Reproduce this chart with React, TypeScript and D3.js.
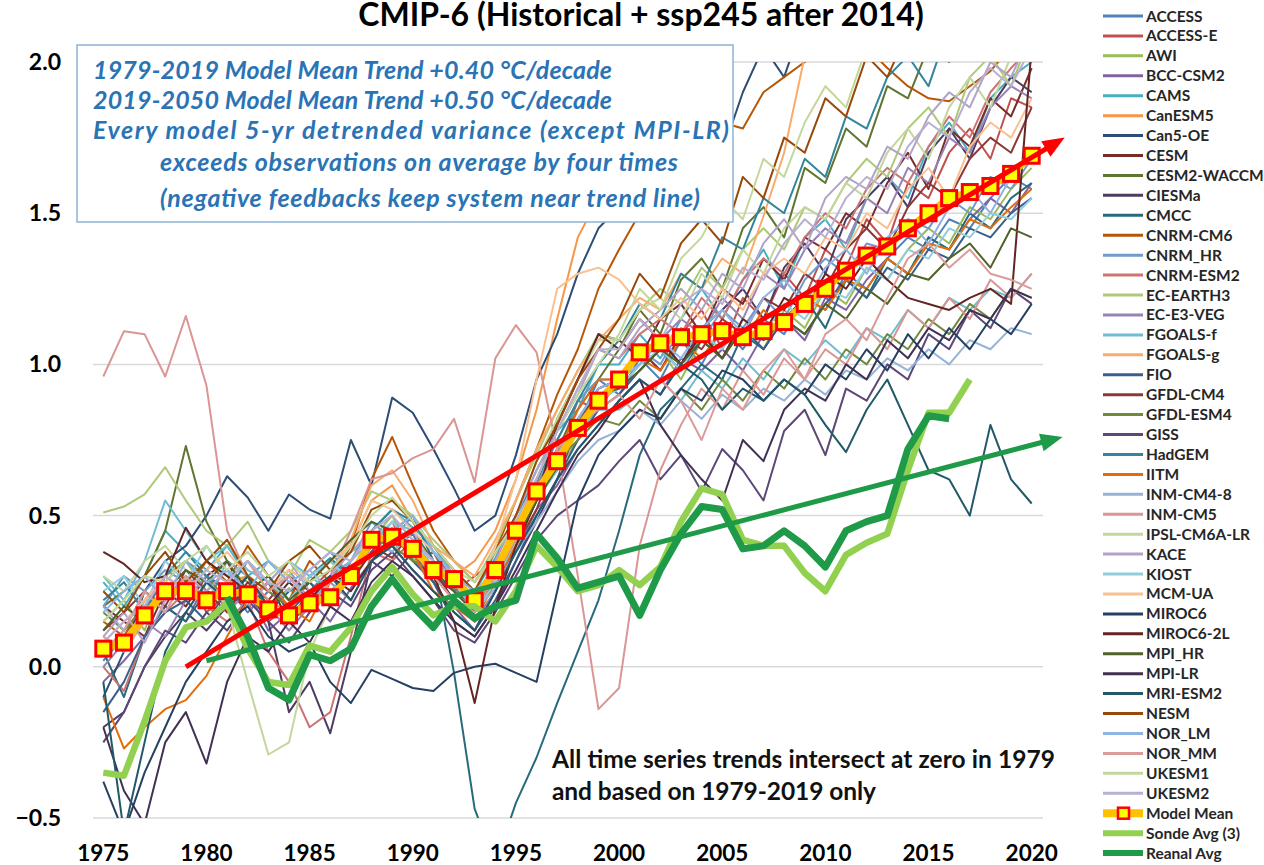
import React from "react";
import * as d3 from "d3";

const years = [1975,1976,1977,1978,1979,1980,1981,1982,1983,1984,1985,1986,1987,1988,1989,1990,1991,1992,1993,1994,1995,1996,1997,1998,1999,2000,2001,2002,2003,2004,2005,2006,2007,2008,2009,2010,2011,2012,2013,2014,2015,2016,2017,2018,2019,2020];

const modelNames = ["ACCESS","ACCESS-E","AWI","BCC-CSM2","CAMS","CanESM5","Can5-OE","CESM","CESM2-WACCM","CIESMa","CMCC","CNRM-CM6","CNRM_HR","CNRM-ESM2","EC-EARTH3","EC-E3-VEG","FGOALS-f","FGOALS-g","FIO","GFDL-CM4","GFDL-ESM4","GISS","HadGEM","IITM","INM-CM4-8","INM-CM5","IPSL-CM6A-LR","KACE","KIOST","MCM-UA","MIROC6","MIROC6-2L","MPI_HR","MPI-LR","MRI-ESM2","NESM","NOR_LM","NOR_MM","UKESM1","UKESM2"];

const modelColors = ["#4F81BD","#C0504D","#9BBB59","#8064A2","#4BACC6","#F79646","#2C4D75","#772C2A","#5F7530","#4D3B62","#276A7C","#B65708","#729ACA","#CD7371","#AFC97A","#9983B5","#6FBDD1","#F9AB6B","#3A5F8B","#8C3836","#71893F","#5C4776","#31859C","#E46C0A","#95B3D7","#D99694","#C3D69B","#B3A2C7","#93CDDD","#FAC090","#254061","#632523","#4F6228","#403152","#215968","#984807","#8EB4E3","#DA9B99","#C4D79B","#B9AFD0"];

const modelValues: number[][] = [
  [0.02,0.10,0.20,0.28,0.22,0.30,0.26,0.18,0.25,0.20,0.28,0.22,0.35,0.45,0.40,0.44,0.30,0.26,0.20,0.30,0.48,0.55,0.72,0.80,0.95,0.90,1.02,0.95,1.08,1.00,1.12,1.05,1.15,1.10,1.22,1.18,1.30,1.25,1.35,1.42,1.38,1.48,1.45,1.55,1.62,1.58],
  [0.10,0.05,0.18,0.22,0.30,0.18,0.24,0.30,0.15,0.20,0.25,0.32,0.28,0.40,0.48,0.35,0.38,0.25,0.30,0.35,0.42,0.62,0.70,0.88,0.85,0.95,1.05,0.98,1.10,1.18,1.05,1.22,1.15,1.30,1.22,1.38,1.32,1.48,1.40,1.60,1.55,1.70,1.78,1.68,1.88,1.85],
  [0.15,0.22,0.12,0.30,0.35,0.25,0.32,0.28,0.20,0.26,0.18,0.30,0.38,0.42,0.50,0.36,0.28,0.32,0.18,0.28,0.40,0.58,0.65,0.75,0.90,0.92,0.98,1.05,0.95,1.08,1.02,1.12,1.05,1.18,1.12,1.25,1.20,1.32,1.28,1.38,1.45,1.40,1.52,1.48,1.58,1.65],
  [-0.05,0.02,0.10,0.20,0.15,0.28,0.20,0.25,0.12,0.18,0.22,0.15,0.26,0.35,0.40,0.32,0.25,0.20,0.12,0.25,0.38,0.52,0.60,0.72,0.80,0.88,0.95,0.90,1.02,0.98,1.05,0.98,1.10,1.15,1.08,1.22,1.18,1.28,1.35,1.30,1.42,1.38,1.48,1.55,1.50,1.60],
  [0.28,0.20,0.30,0.45,0.38,0.32,0.40,0.30,0.35,0.28,0.32,0.38,0.30,0.45,0.52,0.46,0.40,0.30,0.25,0.36,0.50,0.65,0.78,0.85,1.00,1.00,1.10,1.02,1.15,1.25,1.15,1.28,1.38,1.25,1.42,1.48,1.38,1.55,1.62,1.55,1.72,1.80,1.70,1.88,1.95,2.00],
  [0.05,0.12,0.20,0.30,0.25,0.35,0.28,0.30,0.22,0.18,0.30,0.35,0.40,0.55,0.60,0.48,0.38,0.30,0.35,0.45,0.62,0.85,1.15,1.42,1.55,1.62,1.75,1.70,1.92,2.05,1.98,2.15,2.10,2.30,2.25,2.40,2.45,2.35,2.55,2.60,2.50,2.70,2.75,2.65,2.85,2.90],
  [-0.10,0.05,0.25,0.35,0.40,0.50,0.63,0.56,0.45,0.57,0.52,0.49,0.75,0.60,0.89,0.84,0.72,0.59,0.45,0.50,0.70,0.95,1.10,1.30,1.45,1.52,1.62,1.55,1.75,1.82,1.70,1.90,2.05,1.95,2.15,2.10,2.25,2.30,2.20,2.40,2.35,2.50,2.45,2.60,2.55,2.65],
  [0.20,0.15,0.10,0.25,0.20,0.30,0.35,0.22,0.28,0.15,0.20,0.30,0.28,0.38,0.45,0.40,0.32,0.22,0.15,0.25,0.45,0.60,0.82,0.95,1.10,1.08,1.02,1.15,1.20,1.10,1.25,1.20,1.35,1.28,1.42,1.38,1.50,1.45,1.60,1.70,1.58,1.78,1.72,1.88,1.82,1.98],
  [0.20,0.25,0.30,0.45,0.73,0.48,0.35,0.30,0.25,0.32,0.28,0.35,0.30,0.42,0.38,0.45,0.35,0.28,0.22,0.30,0.45,0.60,0.72,0.85,0.95,1.05,1.18,1.10,1.28,1.35,1.25,1.45,1.52,1.42,1.65,1.60,1.78,1.72,1.92,1.88,2.05,2.00,2.15,2.10,2.25,2.20],
  [-0.20,-0.15,0.00,0.10,0.18,0.12,0.20,0.25,0.15,-0.15,-0.05,-0.22,0.05,0.35,0.30,0.38,0.28,0.15,0.10,0.20,0.35,0.48,0.62,0.80,0.90,0.92,1.00,1.08,1.00,1.12,1.18,1.25,1.15,1.32,1.40,1.30,1.48,1.55,1.62,1.52,1.70,1.78,1.68,1.85,1.95,1.90],
  [0.05,-0.10,0.10,0.20,0.15,0.25,0.22,0.30,0.18,0.25,0.28,0.20,0.30,0.40,0.45,0.50,0.35,-0.02,-0.47,-0.65,-0.45,-0.30,-0.12,0.05,0.22,0.45,0.70,0.85,0.92,1.00,0.95,1.10,1.05,1.15,1.22,1.12,1.28,1.22,1.35,1.30,1.42,1.38,1.50,1.45,1.55,1.60],
  [0.15,0.10,0.22,0.30,0.25,0.35,0.28,0.40,0.30,0.22,0.35,0.28,0.40,0.62,0.76,0.60,0.45,0.35,0.28,0.38,0.55,0.72,0.90,1.05,1.25,1.38,1.50,1.62,1.58,1.72,1.80,1.78,1.90,1.95,2.00,2.05,2.10,2.05,1.98,1.92,1.88,1.87,1.92,1.97,2.05,2.15],
  [0.20,0.30,0.25,0.32,0.28,0.20,0.35,0.30,0.25,0.32,0.22,0.30,0.35,0.48,0.42,0.50,0.38,0.30,0.22,0.32,0.45,0.60,0.75,0.88,0.95,0.95,1.05,1.00,1.12,1.08,1.18,1.12,1.22,1.15,1.28,1.35,1.30,1.40,1.38,1.48,1.45,1.55,1.50,1.62,1.58,1.68],
  [0.00,-0.08,0.10,0.18,0.25,0.20,0.15,0.22,0.05,-0.05,-0.20,-0.15,0.10,0.38,0.35,0.42,0.35,0.25,0.18,0.28,0.45,0.62,0.78,0.92,1.05,1.02,1.10,1.15,1.10,1.22,1.15,1.28,1.35,1.30,1.42,1.50,1.45,1.58,1.65,1.60,1.72,1.82,1.75,1.90,1.98,2.05],
  [0.51,0.53,0.57,0.66,0.55,0.45,0.40,0.48,0.35,0.30,0.42,0.38,0.45,0.58,0.55,0.50,0.42,0.35,0.28,0.40,0.55,0.70,0.85,0.98,1.10,1.08,1.18,1.25,1.20,1.32,1.25,1.38,1.45,1.38,1.52,1.48,1.60,1.68,1.62,1.78,1.85,1.75,1.95,2.02,1.92,2.10],
  [0.00,0.08,0.15,0.10,0.22,0.30,0.18,0.25,0.20,0.12,0.20,0.28,0.22,0.35,0.42,0.38,0.30,0.22,0.15,0.25,0.40,0.55,0.68,0.82,0.92,0.95,1.02,1.08,1.15,1.10,1.22,1.15,1.30,1.25,1.38,1.45,1.40,1.55,1.50,1.65,1.60,1.75,1.70,1.85,1.92,1.88],
  [0.30,0.22,0.35,0.55,0.45,0.35,0.40,0.32,0.28,0.35,0.30,0.25,0.32,0.40,0.48,0.45,0.38,0.32,0.25,0.30,0.42,0.55,0.65,0.78,0.85,0.85,0.90,0.95,0.88,0.98,0.92,1.02,0.95,1.05,1.00,1.08,1.02,1.12,1.08,1.18,1.12,1.22,1.18,1.25,1.22,1.30],
  [0.10,0.05,0.15,0.25,0.30,0.20,0.28,0.35,0.25,0.30,0.22,0.30,0.42,0.60,0.65,0.55,0.40,0.35,0.30,0.42,0.55,0.72,0.85,0.98,1.08,1.15,1.22,1.18,1.30,1.25,1.35,1.30,1.49,1.70,2.02,2.10,2.20,2.25,2.35,2.40,2.45,2.55,2.60,2.65,2.75,2.80],
  [-0.15,-0.05,0.10,0.18,0.22,0.15,0.25,0.20,0.28,0.18,0.25,0.20,0.30,0.38,0.45,0.35,0.28,0.18,0.12,0.22,0.35,0.50,0.62,0.75,0.85,0.90,0.98,1.05,0.98,1.08,1.02,1.12,1.05,1.15,1.10,1.20,1.28,1.22,1.32,1.28,1.38,1.35,1.45,1.42,1.50,1.55],
  [0.12,0.18,0.25,0.20,0.32,0.25,0.18,0.28,0.22,0.30,0.25,0.20,0.32,0.40,0.36,0.45,0.30,0.25,0.20,0.28,0.40,0.52,0.70,0.80,0.92,0.95,1.05,0.98,1.10,1.05,1.15,1.10,1.22,1.18,1.30,1.25,1.38,1.45,1.38,1.52,1.60,1.55,1.68,1.75,1.70,1.85],
  [0.18,0.12,0.20,0.28,0.35,0.30,0.22,0.30,0.25,0.20,0.30,0.35,0.28,0.42,0.40,0.35,0.32,0.28,0.20,0.30,0.45,0.55,0.68,0.75,0.82,0.80,0.88,0.82,0.92,0.85,0.95,0.88,0.98,0.92,1.02,0.95,1.05,1.00,1.10,1.05,1.15,1.10,1.20,1.15,1.25,1.22],
  [-0.25,-0.15,0.00,0.12,0.08,0.18,0.12,0.22,0.15,0.08,0.18,0.25,0.20,0.32,0.38,0.30,0.22,0.12,0.08,0.18,0.30,0.42,0.50,0.55,0.60,0.68,0.75,0.62,0.70,0.58,0.72,0.65,0.55,0.78,0.85,0.70,0.92,0.88,1.00,0.95,1.10,1.05,1.18,1.12,1.25,1.20],
  [0.22,0.28,0.18,0.30,0.38,0.30,0.25,0.35,0.28,0.22,0.30,0.36,0.30,0.45,0.52,0.48,0.38,0.28,0.22,0.35,0.50,0.62,0.75,0.88,1.00,1.08,1.20,1.15,1.30,1.25,1.42,1.38,1.55,1.50,1.68,1.62,1.82,1.78,1.95,2.02,1.92,2.12,2.08,2.22,2.18,2.30],
  [-0.10,-0.27,-0.20,-0.14,-0.11,-0.03,0.10,0.22,0.28,0.20,0.15,0.28,0.32,0.40,0.45,0.38,0.25,0.20,0.15,0.28,0.40,0.55,0.70,0.85,0.95,0.95,1.02,0.98,1.08,1.02,1.12,1.08,1.18,1.12,1.22,1.18,1.28,1.25,1.35,1.30,1.40,1.38,1.48,1.45,1.52,1.58],
  [0.20,0.12,0.25,0.18,0.30,0.22,0.28,0.35,0.25,0.30,0.22,0.28,0.35,0.42,0.38,0.45,0.32,0.28,0.18,0.26,0.38,0.48,0.58,0.68,0.75,0.78,0.85,0.80,0.88,0.82,0.90,0.85,0.92,0.88,0.95,0.90,0.98,0.95,1.02,0.98,1.05,1.00,1.08,1.05,1.12,1.10],
  [0.96,1.11,1.10,0.96,1.16,0.93,0.45,0.30,0.22,0.15,0.25,0.30,0.45,0.62,0.64,0.69,0.72,0.82,0.61,1.02,1.13,1.04,0.72,0.30,-0.14,-0.07,0.40,0.65,0.80,0.92,0.85,0.98,0.90,1.02,0.95,1.05,1.00,1.12,1.05,1.18,1.12,1.22,1.15,1.28,1.22,1.30],
  [0.30,0.25,0.35,0.40,0.32,0.28,0.20,-0.05,-0.29,-0.25,0.05,0.20,0.30,0.45,0.50,0.42,0.35,0.28,0.20,0.32,0.50,0.68,0.82,0.95,1.08,1.08,1.18,1.22,1.15,1.30,1.22,1.38,1.30,1.45,1.52,1.48,1.60,1.55,1.70,1.78,1.68,1.85,1.95,1.85,2.02,2.08],
  [0.10,0.18,0.08,0.22,0.30,0.25,0.32,0.20,0.28,0.35,0.25,0.30,0.38,0.45,0.50,0.42,0.35,0.30,0.22,0.35,0.50,0.65,0.78,0.90,1.05,1.02,1.12,1.18,1.25,1.18,1.30,1.25,1.40,1.48,1.38,1.55,1.62,1.58,1.72,1.68,1.82,1.90,1.85,2.00,1.95,2.10],
  [0.25,0.30,0.20,0.35,0.28,0.40,0.30,0.35,0.28,0.22,0.30,0.35,0.28,0.42,0.48,0.40,0.35,0.25,0.18,0.28,0.42,0.55,0.68,0.80,0.88,0.92,1.00,1.05,0.98,1.10,1.05,1.15,1.10,1.20,1.15,1.25,1.22,1.32,1.28,1.38,1.35,1.45,1.42,1.50,1.48,1.55],
  [0.08,0.15,0.22,0.30,0.25,0.32,0.38,0.30,0.25,0.32,0.28,0.35,0.40,0.55,0.52,0.45,0.38,0.30,0.25,0.40,0.62,0.95,1.25,1.30,1.32,1.28,1.20,1.15,1.22,1.15,1.25,1.18,1.30,1.35,1.30,1.42,1.38,1.50,1.45,1.58,1.65,1.55,1.72,1.80,1.75,1.88],
  [-0.38,-0.55,-0.35,-0.20,-0.05,0.05,0.15,0.20,0.10,0.05,0.08,-0.05,-0.12,-0.01,-0.04,-0.07,-0.08,-0.02,0.00,0.01,-0.02,-0.05,0.25,0.55,0.70,0.78,0.85,0.82,0.92,0.88,0.98,0.95,0.88,0.95,0.90,1.00,0.95,1.05,0.98,1.10,1.02,1.12,1.05,1.15,1.10,1.20],
  [0.38,0.34,0.28,0.30,0.46,0.35,0.30,0.25,0.20,0.28,0.22,0.30,0.25,0.35,0.42,0.38,0.30,0.15,-0.12,0.20,0.40,0.55,0.80,0.95,1.10,1.05,1.15,1.08,1.00,1.10,1.02,1.15,1.10,1.22,1.18,1.30,1.25,1.35,1.28,1.22,1.20,1.18,1.22,1.25,1.20,2.05],
  [0.12,0.20,0.15,0.25,0.32,0.28,0.35,0.25,0.30,0.22,0.28,0.35,0.42,0.48,0.45,0.40,0.32,0.25,0.18,0.30,0.42,0.55,0.66,0.78,0.90,0.92,0.98,1.05,1.00,1.08,1.02,1.12,1.08,1.15,1.10,1.20,1.15,1.25,1.20,1.30,1.28,1.35,1.40,1.32,1.45,1.42],
  [-0.20,-0.41,-0.52,-0.25,-0.15,-0.32,-0.05,0.10,0.05,0.15,0.08,0.20,0.15,0.28,0.35,0.30,0.22,0.15,0.10,0.20,0.32,0.45,0.58,0.70,0.78,0.88,0.95,0.80,0.70,0.62,0.55,0.75,0.68,0.85,0.92,0.88,1.00,0.95,1.08,1.02,1.12,1.08,1.18,1.15,1.25,1.22],
  [-0.05,-0.55,-0.25,0.05,0.18,0.28,0.22,0.30,0.20,0.15,0.25,0.30,0.22,0.35,0.40,0.32,0.25,0.18,0.12,0.25,0.38,0.50,0.62,0.72,0.80,0.88,0.95,0.90,1.00,0.95,0.85,0.92,0.88,0.95,0.90,0.80,0.71,0.85,0.95,0.80,0.65,0.62,0.50,0.80,0.62,0.54],
  [0.25,0.18,0.30,0.38,0.28,0.35,0.42,0.30,0.25,0.35,0.40,0.32,0.38,0.52,0.55,0.48,0.40,0.32,0.25,0.38,0.50,0.68,0.80,0.95,1.05,1.15,1.30,1.22,1.40,1.48,1.40,1.62,1.55,1.75,1.70,1.88,1.82,2.02,1.95,2.10,2.05,2.20,2.12,2.28,2.35,2.30],
  [0.18,0.25,0.30,0.22,0.35,0.28,0.32,0.25,0.35,0.28,0.32,0.25,0.30,0.40,0.45,0.50,0.38,0.30,0.25,0.32,0.45,0.58,0.70,0.82,0.92,0.95,1.00,1.08,1.02,1.12,1.18,1.10,1.22,1.28,1.20,1.32,1.38,1.30,1.42,1.48,1.40,1.52,1.58,1.50,1.62,1.68],
  [0.05,0.12,0.25,0.18,0.30,0.22,0.28,0.35,0.25,0.30,0.20,0.28,0.32,0.40,0.46,0.38,0.30,0.22,0.18,0.30,0.42,0.58,0.72,0.80,0.85,0.90,0.82,0.95,0.88,0.75,0.92,0.85,0.98,1.05,0.95,1.10,1.15,1.08,1.22,1.35,1.40,1.32,1.38,1.30,1.28,1.25],
  [0.15,0.22,0.30,0.28,0.35,0.40,0.32,0.38,0.30,0.35,0.28,0.32,0.40,0.50,0.56,0.48,0.40,0.32,0.28,0.38,0.48,0.62,0.78,0.90,1.00,1.10,1.25,1.18,1.35,1.42,1.55,1.48,1.68,1.62,1.80,1.92,1.85,2.05,2.00,2.15,2.22,2.10,2.30,2.38,2.25,2.45],
  [0.08,0.15,0.20,0.30,0.25,0.32,0.28,0.35,0.28,0.25,0.32,0.38,0.35,0.45,0.50,0.42,0.35,0.28,0.22,0.32,0.48,0.62,0.78,0.92,1.05,1.05,1.15,1.08,1.20,1.25,1.20,1.32,1.28,1.40,1.48,1.42,1.55,1.62,1.58,1.72,1.80,1.75,1.90,1.98,1.92,2.05],
];

const modelMean = [0.06,0.08,0.17,0.25,0.25,0.22,0.25,0.24,0.19,0.17,0.21,0.23,0.30,0.42,0.43,0.39,0.32,0.29,0.22,0.32,0.45,0.58,0.68,0.79,0.88,0.95,1.04,1.07,1.09,1.10,1.11,1.09,1.11,1.14,1.20,1.25,1.31,1.36,1.39,1.45,1.50,1.55,1.57,1.59,1.63,1.69];

const sondeAvg: (number | null)[] = [-0.35,-0.36,-0.18,0.02,0.13,0.15,0.21,0.06,-0.05,-0.06,0.07,0.05,0.13,0.25,0.33,0.24,0.17,0.20,0.20,0.15,0.25,0.40,0.33,0.25,0.27,0.32,0.27,0.33,0.48,0.59,0.57,0.42,0.40,0.40,0.31,0.25,0.37,0.41,0.44,0.65,0.84,0.84,0.95,null,null,null];

const reanalAvg: (number | null)[] = [null,null,null,null,null,null,0.23,0.10,-0.07,-0.11,0.04,0.02,0.06,0.20,0.29,0.20,0.13,0.22,0.16,0.20,0.22,0.44,0.36,0.26,0.28,0.30,0.17,0.32,0.44,0.53,0.52,0.39,0.40,0.45,0.40,0.33,0.45,0.48,0.50,0.72,0.83,0.82,null,null,null,null];

const yTicks = [2.0, 1.5, 1.0, 0.5, 0.0, -0.5];
const xTicks = [1975, 1980, 1985, 1990, 1995, 2000, 2005, 2010, 2015, 2020];

const redTrend: [number, number][] = [[1979, 0.0], [2021.6, 1.75]];
const greenTrend: [number, number][] = [[1980, 0.02], [2021.5, 0.76]];

const titleText = "CMIP-6 (Historical + ssp245 after 2014)";
const boxLines = [
  "1979-2019 Model Mean Trend +0.40 °C/decade",
  "2019-2050 Model Mean Trend +0.50 °C/decade",
  "Every model 5-yr detrended variance (except MPI-LR)",
  "exceeds observations on average by four times",
  "(negative feedbacks keep system near trend line)",
];
const boxIndent = [0, 0, 0, 1, 1];
const boxBaselines = [79, 109, 139, 171, 207];
const boxWidths = [519, 519, 636, 518, 540];
const noteLines = [
  "All time series trends intersect at zero in 1979",
  "and based on 1979-2019 only",
];
const noteWidths = [503, 324];
const extraLegend = ["Model Mean", "Sonde Avg (3)", "Reanal Avg"];

const FONT = "Lato, 'Open Sans', 'DejaVu Sans', sans-serif";

function Arrow({ pts, color, x, y, width }: any) {
  const x0 = x(pts[0][0]), y0 = y(pts[0][1]);
  const x1 = x(pts[1][0]), y1 = y(pts[1][1]);
  const dx = x1 - x0, dy = y1 - y0;
  const len = Math.hypot(dx, dy);
  const ux = dx / len, uy = dy / len;
  const L = 22, hw = 9;
  const bx = x1 - ux * L, by = y1 - uy * L;
  const nx = -uy, ny = ux;
  return (
    <g>
      <line x1={x0} y1={y0} x2={bx + ux * 4} y2={by + uy * 4} stroke={color} strokeWidth={width} />
      <polygon points={`${x1},${y1} ${bx + nx * hw},${by + ny * hw} ${bx - nx * hw},${by - ny * hw}`} fill={color} />
    </g>
  );
}

export default function App() {
  const x = d3.scaleLinear().domain([1974.5, 2020.5]).range([93, 1042]);
  const y = d3.scaleLinear().domain([-0.5, 2.0]).range([818, 62]);
  const line = d3
    .line<number | null>()
    .defined((d) => d != null)
    .x((_, i) => x(years[i]))
    .y((d) => y(d as number));

  const legendY = (i: number) => 16 + i * 19.93;
  const LF = 15.5;

  return (
    <svg
      width={1264}
      height={865}
      style={{ position: "absolute", left: 0, top: 0, display: "block" }}
      fontFamily={FONT}
    >
      <defs>
        <clipPath id="plotClip">
          <rect x={93} y={62} width={950} height={756} />
        </clipPath>
      </defs>
      <rect x={0} y={0} width={1264} height={865} fill="#ffffff" />

      {yTicks.map((t) => (
        <line key={"g" + t} x1={93} x2={1043} y1={y(t)} y2={y(t)} stroke="#D9D9D9" strokeWidth={1.5} />
      ))}

      <g clipPath="url(#plotClip)" fill="none" strokeLinejoin="round">
        {modelValues.map((vals, i) => (
          <path key={modelNames[i]} d={line(vals) || ""} stroke={modelColors[i]} strokeWidth={2} />
        ))}
        <path d={line(modelMean) || ""} stroke="#FFC000" strokeWidth={7} />
      </g>

      {modelMean.map((v, i) => (
        <rect
          key={"m" + i}
          x={x(years[i]) - 7.5}
          y={y(v) - 7.5}
          width={15}
          height={15}
          fill="#FFFF00"
          stroke="#FF0000"
          strokeWidth={3}
        />
      ))}

      <g fill="none" strokeLinejoin="round">
        <path d={line(sondeAvg) || ""} stroke="#92D050" strokeWidth={6.5} />
        <path d={line(reanalAvg) || ""} stroke="#1E9A48" strokeWidth={7} />
      </g>

      <Arrow pts={redTrend} color="#FF0000" x={x} y={y} width={5} />
      <Arrow pts={greenTrend} color="#1E9A48" x={x} y={y} width={5} />

      <rect x={77} y={45} width={656} height={177} fill="#ffffff" stroke="#8CB4D6" strokeWidth={1.5} />
      {boxLines.map((t, i) => (
        <text
          key={"b" + i}
          x={boxIndent[i] ? 160 : 93}
          y={boxBaselines[i]}
          fontSize={25}
          fontWeight="bold"
          fontStyle="italic"
          fill="#2A73B5"
          textLength={boxWidths[i]}
          lengthAdjust="spacing"
        >
          {t}
        </text>
      ))}

      {noteLines.map((t, i) => (
        <text
          key={"n" + i}
          x={552}
          y={768 + i * 32}
          fontSize={24.5}
          fontWeight="bold"
          fill="#111"
          textLength={noteWidths[i]}
          lengthAdjust="spacing"
        >
          {t}
        </text>
      ))}

      {yTicks.map((t) => (
        <text key={"yt" + t} x={61} y={y(t) + 8} textAnchor="end" fontSize={23} fontWeight="bold" fill="#000">
          {d3.format(".1f")(t)}
        </text>
      ))}
      {xTicks.map((t) => (
        <text key={"xt" + t} x={x(t)} y={861} textAnchor="middle" fontSize={22.5} fontWeight="bold" fill="#000">
          {t}
        </text>
      ))}

      <text x={641} y={26} textAnchor="middle" fontSize={32} fontWeight="bold" fill="#000">
        {titleText}
      </text>

      {modelNames.map((n, i) => (
        <g key={"lg" + n}>
          <line x1={1103} x2={1143} y1={legendY(i)} y2={legendY(i)} stroke={modelColors[i]} strokeWidth={3} />
          <text x={1146} y={legendY(i) + 5.5} fontSize={LF} fontWeight="bold" fill="#262626">
            {n}
          </text>
        </g>
      ))}
      <g>
        <line x1={1103} x2={1143} y1={legendY(40)} y2={legendY(40)} stroke="#FFC000" strokeWidth={8} />
        <rect x={1118} y={legendY(40) - 5.5} width={11} height={11} fill="#FFFF00" stroke="#FF0000" strokeWidth={2.5} />
        <text x={1146} y={legendY(40) + 5.5} fontSize={LF} fontWeight="bold" fill="#262626">{extraLegend[0]}</text>
        <line x1={1103} x2={1143} y1={legendY(41)} y2={legendY(41)} stroke="#92D050" strokeWidth={6} />
        <text x={1146} y={legendY(41) + 5.5} fontSize={LF} fontWeight="bold" fill="#262626">{extraLegend[1]}</text>
        <line x1={1103} x2={1143} y1={legendY(42)} y2={legendY(42)} stroke="#1E9A48" strokeWidth={6} />
        <text x={1146} y={legendY(42) + 5.5} fontSize={LF} fontWeight="bold" fill="#262626">{extraLegend[2]}</text>
      </g>
    </svg>
  );
}
